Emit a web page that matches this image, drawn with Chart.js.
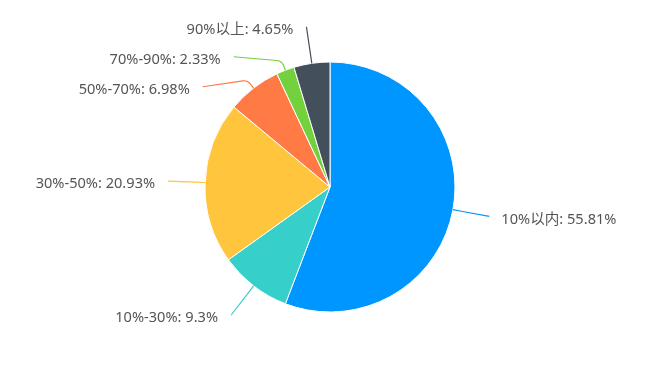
<!DOCTYPE html>
<html>
<head>
<meta charset="utf-8">
<script src="https://cdn.jsdelivr.net/npm/chart.js@4/dist/chart.umd.min.js"></script>
<style>
  html, body { margin: 0; padding: 0; background: #fff; }
  #wrap { width: 660px; height: 374px; position: relative; }
</style>
</head>
<body>
<div id="wrap"><canvas id="chart"></canvas></div>
<script>
// Data
const categories = ['10%以内', '10%-30%', '30%-50%', '50%-70%', '70%-90%', '90%以上']
const percents = [55.81, 9.3, 20.93, 6.98, 2.33, 4.65]
const sliceColors = ['#0096FF', '#36CFC9', '#FFC53D', '#FF7A45', '#73D13D', '#434F5B']

const labelFont = '14.6px "Noto Sans", "Noto Sans CJK SC", sans-serif'

// Draws outer labels with leader lines, labels kept on a circle around the pie
const outerLabels = {
    id: 'outerLabels',
    afterDatasetsDraw (chart) {
        const ctx = chart.ctx
        const meta = chart.getDatasetMeta(0)
        const items = []

        meta.data.forEach((arc, i) => {
            const p = arc.getProps(['x', 'y', 'startAngle', 'endAngle', 'outerRadius'], true)
            const mid = (p.startAngle + p.endAngle) / 2
            const cos = Math.cos(mid)
            const sin = Math.sin(mid)
            const R = p.outerRadius + 37
            items.push({
                i, cx: p.x, cy: p.y, r: p.outerRadius, R, cos, sin,
                right: cos >= 0,
                y: p.y + sin * R
            })
        })

        // Push labels apart on each side
        const gap = 30
        ;[true, false].forEach(side => {
            const list = items.filter(it => it.right === side).sort((a, b) => a.y - b.y)
            for (let k = 1; k < list.length; k++) {
                if (list[k].y < list[k - 1].y + gap) list[k].y = list[k - 1].y + gap
            }
        })

        ctx.save()
        ctx.font = labelFont
        ctx.textBaseline = 'middle'
        items.forEach(it => {
            const dy = it.y - it.cy
            const dx = Math.sqrt(Math.max(it.R * it.R - dy * dy, 0))
            const ex = it.right ? it.cx + dx : it.cx - dx
            const ey = it.y
            const sx = it.cx + it.cos * it.r
            const sy = it.cy + it.sin * it.r
            const mx = it.cx + it.cos * (it.r + 10)
            const my = it.cy + it.sin * (it.r + 10)

            ctx.strokeStyle = sliceColors[it.i]
            ctx.lineWidth = 1.2
            ctx.beginPath()
            ctx.moveTo(sx, sy)
            ctx.arcTo(mx, my, ex, ey, 8)
            ctx.lineTo(ex, ey)
            ctx.stroke()

            ctx.fillStyle = '#555555'
            ctx.textAlign = it.right ? 'left' : 'right'
            const tx = it.right ? ex + 12 : ex - 13
            ctx.fillText(categories[it.i] + ': ' + percents[it.i] + '%', tx, ey + 3)
        })
        ctx.restore()
    }
}

new Chart(document.getElementById('chart').getContext('2d'), {
    type: 'pie',
    data: {
        labels: categories,
        datasets: [{
            data: percents,
            backgroundColor: sliceColors,
            borderColor: '#ffffff',
            borderWidth: 1,
            radius: 125
        }]
    },
    options: {
        responsive: true,
        maintainAspectRatio: false,
        animation: false,
        layout: { padding: { top: 62, bottom: 62, left: 205, right: 205 } },
        plugins: {
            legend: { display: false },
            tooltip: { enabled: false }
        }
    },
    plugins: [outerLabels]
})
</script>
</body>
</html>
